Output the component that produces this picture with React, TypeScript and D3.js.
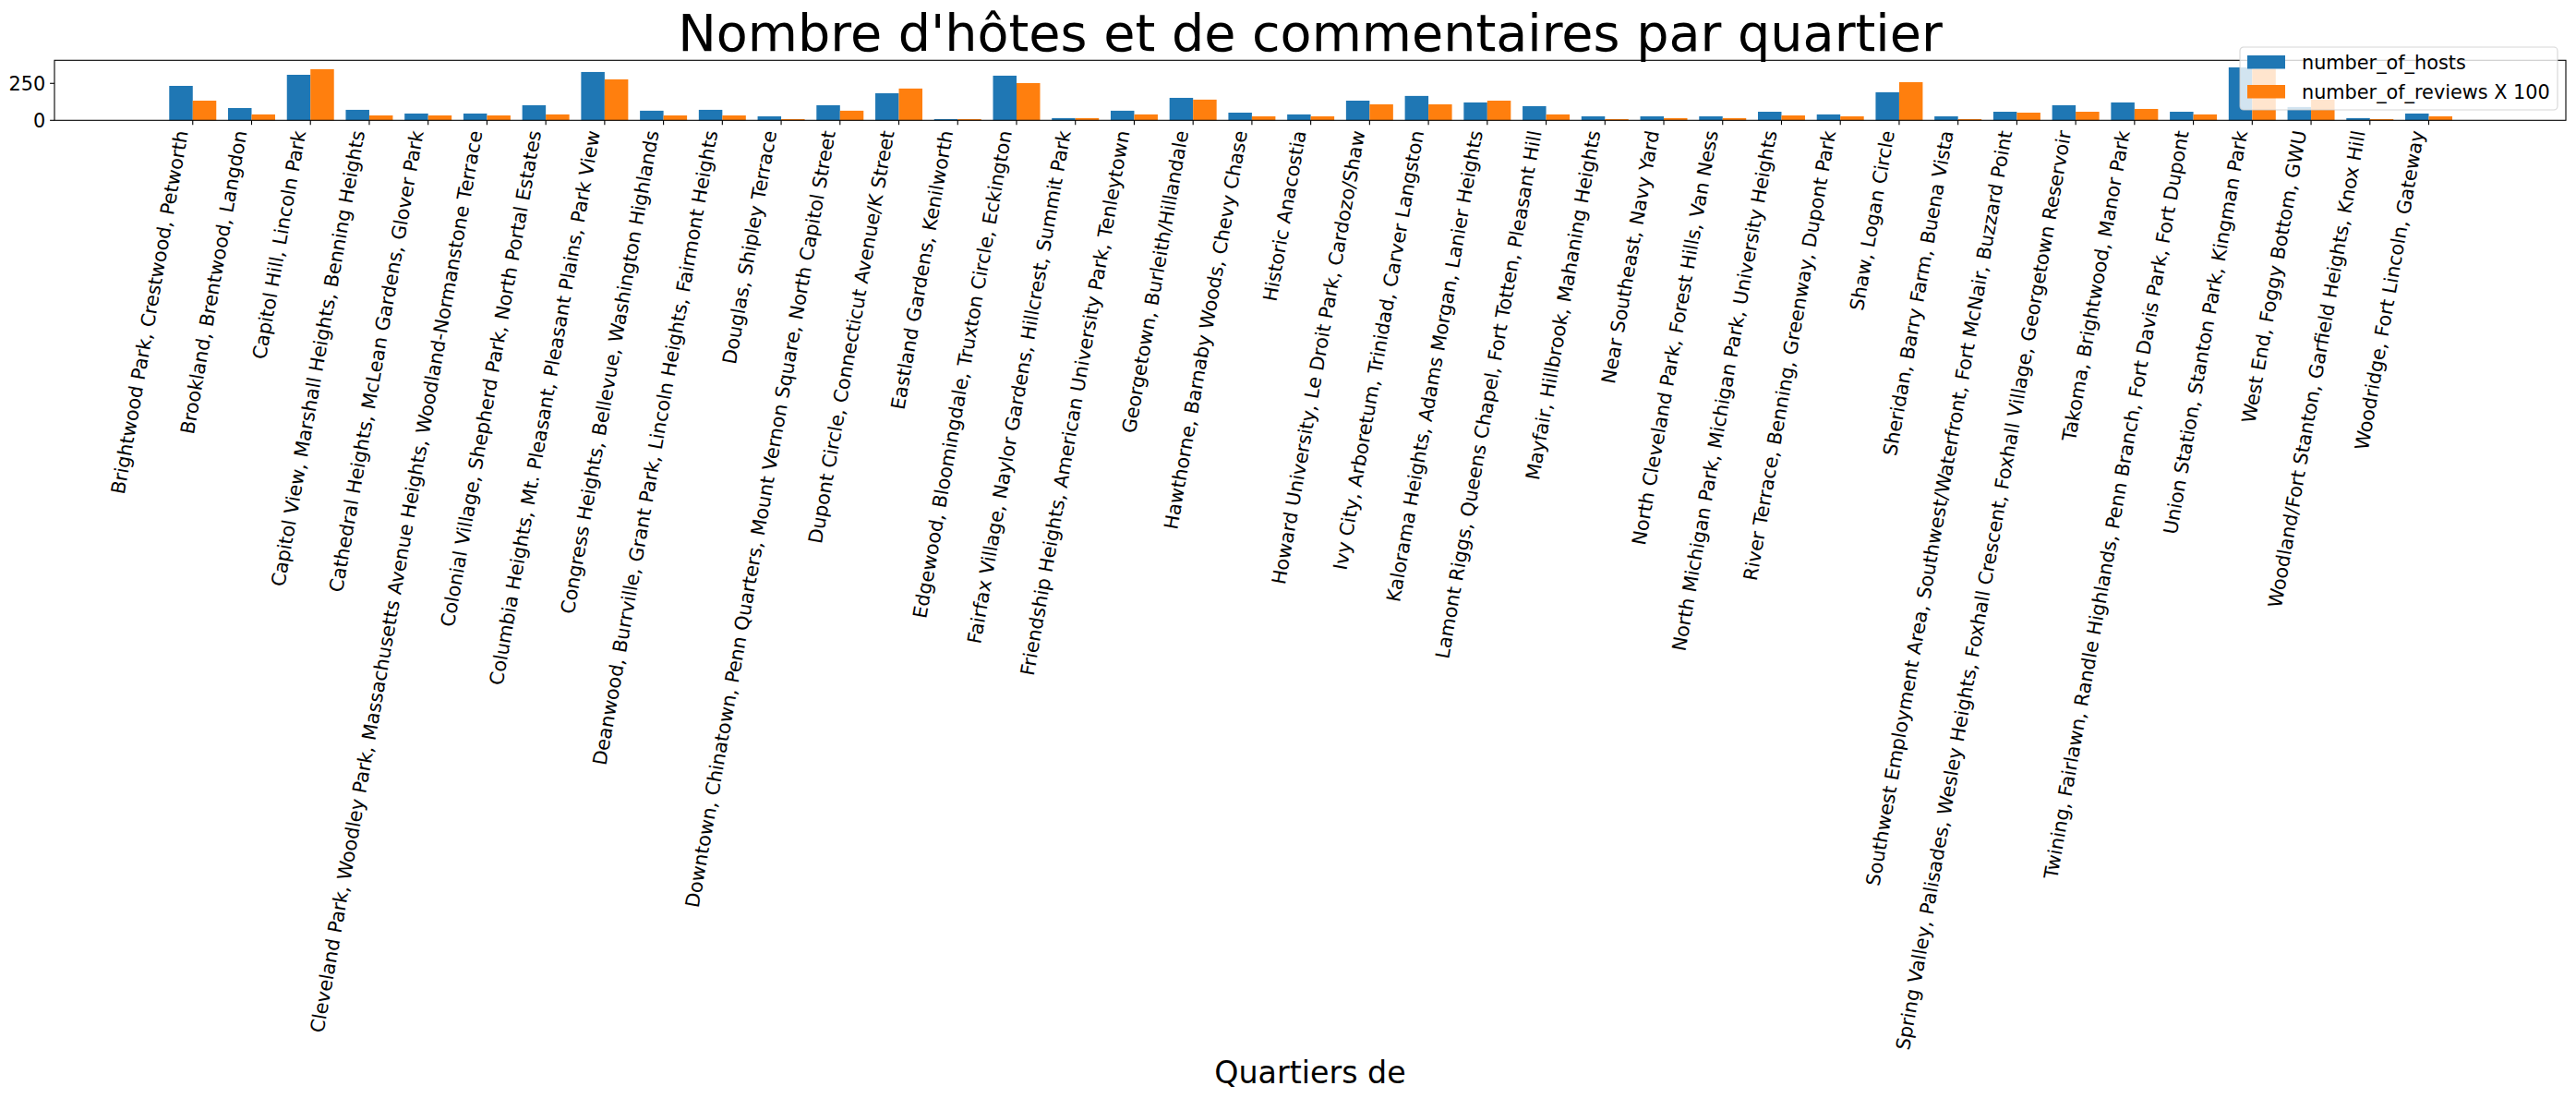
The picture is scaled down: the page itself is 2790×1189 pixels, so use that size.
import React, { useRef, useEffect } from "react";
import * as d3 from "d3";

const neighbourhoods = [
  "Brightwood Park, Crestwood, Petworth",
  "Brookland, Brentwood, Langdon",
  "Capitol Hill, Lincoln Park",
  "Capitol View, Marshall Heights, Benning Heights",
  "Cathedral Heights, McLean Gardens, Glover Park",
  "Cleveland Park, Woodley Park, Massachusetts Avenue Heights, Woodland-Normanstone Terrace",
  "Colonial Village, Shepherd Park, North Portal Estates",
  "Columbia Heights, Mt. Pleasant, Pleasant Plains, Park View",
  "Congress Heights, Bellevue, Washington Highlands",
  "Deanwood, Burrville, Grant Park, Lincoln Heights, Fairmont Heights",
  "Douglas, Shipley Terrace",
  "Downtown, Chinatown, Penn Quarters, Mount Vernon Square, North Capitol Street",
  "Dupont Circle, Connecticut Avenue/K Street",
  "Eastland Gardens, Kenilworth",
  "Edgewood, Bloomingdale, Truxton Circle, Eckington",
  "Fairfax Village, Naylor Gardens, Hillcrest, Summit Park",
  "Friendship Heights, American University Park, Tenleytown",
  "Georgetown, Burleith/Hillandale",
  "Hawthorne, Barnaby Woods, Chevy Chase",
  "Historic Anacostia",
  "Howard University, Le Droit Park, Cardozo/Shaw",
  "Ivy City, Arboretum, Trinidad, Carver Langston",
  "Kalorama Heights, Adams Morgan, Lanier Heights",
  "Lamont Riggs, Queens Chapel, Fort Totten, Pleasant Hill",
  "Mayfair, Hillbrook, Mahaning Heights",
  "Near Southeast, Navy Yard",
  "North Cleveland Park, Forest Hills, Van Ness",
  "North Michigan Park, Michigan Park, University Heights",
  "River Terrace, Benning, Greenway, Dupont Park",
  "Shaw, Logan Circle",
  "Sheridan, Barry Farm, Buena Vista",
  "Southwest Employment Area, Southwest/Waterfront, Fort McNair, Buzzard Point",
  "Spring Valley, Palisades, Wesley Heights, Foxhall Crescent, Foxhall Village, Georgetown Reservoir",
  "Takoma, Brightwood, Manor Park",
  "Twining, Fairlawn, Randle Highlands, Penn Branch, Fort Davis Park, Fort Dupont",
  "Union Station, Stanton Park, Kingman Park",
  "West End, Foggy Bottom, GWU",
  "Woodland/Fort Stanton, Garfield Heights, Knox Hill",
  "Woodridge, Fort Lincoln, Gateway"
];

const numberOfHosts = [
  233, 83, 308, 71, 46, 46, 102, 327, 65, 71, 27, 102, 183, 8, 302, 15,
  65, 152, 52, 40, 133, 165, 121, 96, 27, 27, 27, 58, 40, 190, 27, 58,
  102, 121, 58, 358, 90, 15, 46
];

const numberOfReviewsX100 = [
  133, 40, 346, 33, 33, 33, 40, 277, 33, 33, 8, 65, 215, 8, 252, 15,
  40, 140, 27, 27, 108, 108, 133, 40, 8, 15, 15, 33, 27, 258, 8, 52,
  58, 77, 40, 348, 140, 8, 27
];

const yTicks = [0, 250];
const seriesNames = ["number_of_hosts", "number_of_reviews X 100"];
const colors = ["#1f77b4", "#ff7f0e"];

const App = () => {
  const svgRef = useRef<SVGSVGElement>(null);

  useEffect(() => {
    document.body.style.margin = "0";
    document.body.style.overflow = "hidden";

    const width = 2790;
    const height = 1189;
    const left = 59, right = 2779, top = 65.3, bottom = 130.3;
    const font = "'DejaVu Sans', sans-serif";

    const svg = d3.select(svgRef.current);
    svg.selectAll("*").remove();
    svg.attr("width", width).attr("height", height);

    const x = d3.scaleLinear().domain([-2.35, 40.33]).range([left, right]);
    const y = d3.scaleLinear().domain([0, 406]).range([bottom, top]);
    const barW = 0.4;

    const g = svg.append("g");

    g.selectAll("rect.hosts")
      .data(numberOfHosts)
      .join("rect")
      .attr("class", "hosts")
      .attr("x", (d, i) => x(i - barW))
      .attr("width", x(barW) - x(0))
      .attr("y", d => y(d))
      .attr("height", d => y(0) - y(d))
      .attr("fill", colors[0]);

    g.selectAll("rect.reviews")
      .data(numberOfReviewsX100)
      .join("rect")
      .attr("class", "reviews")
      .attr("x", (d, i) => x(i))
      .attr("width", x(barW) - x(0))
      .attr("y", d => y(d))
      .attr("height", d => y(0) - y(d))
      .attr("fill", colors[1]);

    // frame
    g.append("rect")
      .attr("x", left)
      .attr("y", top)
      .attr("width", right - left)
      .attr("height", bottom - top)
      .attr("fill", "none")
      .attr("stroke", "#000")
      .attr("stroke-width", 1.1);

    // x ticks + rotated labels
    const tickLen = 4.9;
    const fs = 20.8;
    const ang = 80 * Math.PI / 180;
    neighbourhoods.forEach((name, i) => {
      const tx = x(i);
      g.append("line")
        .attr("x1", tx).attr("x2", tx)
        .attr("y1", bottom).attr("y2", bottom + tickLen)
        .attr("stroke", "#000").attr("stroke-width", 1.1);
      const ax = tx - Math.sin(ang) * 0.24 * fs;
      const ay = bottom + tickLen + 4.9 + Math.cos(ang) * 0.76 * fs;
      g.append("text")
        .attr("transform", `translate(${ax},${ay}) rotate(-80)`)
        .attr("text-anchor", "end")
        .attr("font-family", font)
        .attr("font-size", fs)
        .attr("fill", "#000")
        .text(name);
    });

    // y ticks
    yTicks.forEach(t => {
      g.append("line")
        .attr("x1", left - tickLen).attr("x2", left)
        .attr("y1", y(t)).attr("y2", y(t))
        .attr("stroke", "#000").attr("stroke-width", 1.1);
      g.append("text")
        .attr("x", left - tickLen - 4.9)
        .attr("y", y(t))
        .attr("dy", "0.36em")
        .attr("text-anchor", "end")
        .attr("font-family", font)
        .attr("font-size", fs)
        .attr("fill", "#000")
        .text(t);
    });

    // title
    svg.append("text")
      .attr("x", (left + right) / 2)
      .attr("y", 55)
      .attr("text-anchor", "middle")
      .attr("font-family", font)
      .attr("font-size", 55.6)
      .attr("fill", "#000")
      .text("Nombre d'hôtes et de commentaires par quartier");

    // x label
    svg.append("text")
      .attr("x", (left + right) / 2)
      .attr("y", 1173)
      .attr("text-anchor", "middle")
      .attr("font-family", font)
      .attr("font-size", 33.3)
      .attr("fill", "#000")
      .text("Quartiers de");

    // legend
    const legend = svg.append("g").attr("transform", "translate(2426,51)");
    legend.append("rect")
      .attr("width", 344)
      .attr("height", 68)
      .attr("rx", 4)
      .attr("fill", "#fff")
      .attr("fill-opacity", 0.8)
      .attr("stroke", "#ccc")
      .attr("stroke-opacity", 0.8)
      .attr("stroke-width", 1.1);

    legend.selectAll("rect.key")
      .data(seriesNames)
      .join("rect")
      .attr("class", "key")
      .attr("x", 8)
      .attr("y", (d, i) => 9 + i * 32)
      .attr("width", 41)
      .attr("height", 14.5)
      .attr("fill", (d, i) => colors[i]);

    legend.selectAll("text")
      .data(seriesNames)
      .join("text")
      .attr("x", 67)
      .attr("y", (d, i) => 24 + i * 32)
      .attr("font-family", font)
      .attr("font-size", fs)
      .attr("fill", "#000")
      .text(d => d);
  }, []);

  return <svg ref={svgRef} style={{ display: "block" }}></svg>;
};

export default App;
